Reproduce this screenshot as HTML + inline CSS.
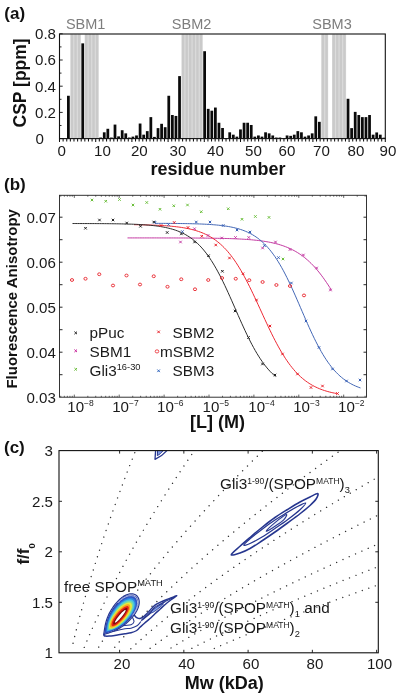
<!DOCTYPE html>
<html lang="en">
<head>
<meta charset="utf-8">
<title>Figure</title>
<style>
html,body{margin:0;padding:0;background:#fff;}
body{width:400px;height:697px;overflow:hidden;}
svg{display:block;will-change:transform;}
text{font-family:"Liberation Sans", Arial, Helvetica, sans-serif;fill:#1a1a1a;}
.tk{font-size:15.1px;}
.sbm{font-size:14.5px;fill:#7d7d7d;}
.pl{font-size:17px;font-weight:bold;fill:#111;}
.axb{font-size:17.5px;font-weight:bold;fill:#111;}
.axb2{font-size:15px;font-weight:bold;fill:#111;}
.axl{font-size:18px;font-weight:bold;fill:#111;}
.lg{font-size:15.3px;}
</style>
</head>
<body>
<svg width="400" height="697" viewBox="0 0 400 697">
<rect x="0" y="0" width="400" height="697" fill="#ffffff"/>
<g id="panelA">
<rect x="70.31" y="34.5" width="10.52" height="104.1" fill="#dcdcdc"/>
<rect x="84.64" y="34.5" width="14.1" height="104.1" fill="#dcdcdc"/>
<rect x="181.44" y="34.5" width="21.28" height="104.1" fill="#dcdcdc"/>
<rect x="321.25" y="34.5" width="6.93" height="104.1" fill="#dcdcdc"/>
<rect x="332.01" y="34.5" width="14.1" height="104.1" fill="#dcdcdc"/>
<rect x="70.76" y="34.5" width="2.45" height="104.1" fill="#cacaca"/>
<rect x="74.34" y="34.5" width="2.45" height="104.1" fill="#cacaca"/>
<rect x="77.93" y="34.5" width="2.45" height="104.1" fill="#cacaca"/>
<rect x="85.09" y="34.5" width="2.45" height="104.1" fill="#cacaca"/>
<rect x="88.68" y="34.5" width="2.45" height="104.1" fill="#cacaca"/>
<rect x="92.27" y="34.5" width="2.45" height="104.1" fill="#cacaca"/>
<rect x="95.85" y="34.5" width="2.45" height="104.1" fill="#cacaca"/>
<rect x="181.89" y="34.5" width="2.45" height="104.1" fill="#cacaca"/>
<rect x="185.47" y="34.5" width="2.45" height="104.1" fill="#cacaca"/>
<rect x="189.06" y="34.5" width="2.45" height="104.1" fill="#cacaca"/>
<rect x="192.65" y="34.5" width="2.45" height="104.1" fill="#cacaca"/>
<rect x="196.23" y="34.5" width="2.45" height="104.1" fill="#cacaca"/>
<rect x="199.81" y="34.5" width="2.45" height="104.1" fill="#cacaca"/>
<rect x="321.7" y="34.5" width="2.45" height="104.1" fill="#cacaca"/>
<rect x="325.29" y="34.5" width="2.45" height="104.1" fill="#cacaca"/>
<rect x="332.46" y="34.5" width="2.45" height="104.1" fill="#cacaca"/>
<rect x="336.05" y="34.5" width="2.45" height="104.1" fill="#cacaca"/>
<rect x="339.63" y="34.5" width="2.45" height="104.1" fill="#cacaca"/>
<rect x="343.21" y="34.5" width="2.45" height="104.1" fill="#cacaca"/>
<rect x="67.02" y="95.76" width="2.75" height="42.84" fill="#0a0a0a"/>
<rect x="81.36" y="43.36" width="2.75" height="95.24" fill="#0a0a0a"/>
<rect x="99.28" y="137.55" width="2.75" height="1.05" fill="#0a0a0a"/>
<rect x="102.87" y="132.31" width="2.75" height="6.29" fill="#0a0a0a"/>
<rect x="106.45" y="128.78" width="2.75" height="9.82" fill="#0a0a0a"/>
<rect x="110.04" y="137.55" width="2.75" height="1.05" fill="#0a0a0a"/>
<rect x="113.62" y="124.58" width="2.75" height="14.02" fill="#0a0a0a"/>
<rect x="117.21" y="136.37" width="2.75" height="2.23" fill="#0a0a0a"/>
<rect x="120.8" y="130.22" width="2.75" height="8.38" fill="#0a0a0a"/>
<rect x="124.38" y="133.36" width="2.75" height="5.24" fill="#0a0a0a"/>
<rect x="127.97" y="137.55" width="2.75" height="1.05" fill="#0a0a0a"/>
<rect x="131.55" y="136.63" width="2.75" height="1.96" fill="#0a0a0a"/>
<rect x="135.13" y="135.46" width="2.75" height="3.14" fill="#0a0a0a"/>
<rect x="138.72" y="123.53" width="2.75" height="15.07" fill="#0a0a0a"/>
<rect x="142.31" y="134.67" width="2.75" height="3.93" fill="#0a0a0a"/>
<rect x="145.89" y="131.13" width="2.75" height="7.47" fill="#0a0a0a"/>
<rect x="149.47" y="117.12" width="2.75" height="21.48" fill="#0a0a0a"/>
<rect x="153.06" y="136.9" width="2.75" height="1.7" fill="#0a0a0a"/>
<rect x="156.65" y="128.12" width="2.75" height="10.48" fill="#0a0a0a"/>
<rect x="160.23" y="123.8" width="2.75" height="14.8" fill="#0a0a0a"/>
<rect x="163.81" y="127.2" width="2.75" height="11.4" fill="#0a0a0a"/>
<rect x="167.4" y="95.76" width="2.75" height="42.84" fill="#0a0a0a"/>
<rect x="170.99" y="115.02" width="2.75" height="23.58" fill="#0a0a0a"/>
<rect x="174.57" y="115.94" width="2.75" height="22.66" fill="#0a0a0a"/>
<rect x="178.16" y="76.11" width="2.75" height="62.49" fill="#0a0a0a"/>
<rect x="203.25" y="51.22" width="2.75" height="87.38" fill="#0a0a0a"/>
<rect x="206.83" y="108.86" width="2.75" height="29.74" fill="#0a0a0a"/>
<rect x="210.42" y="110.7" width="2.75" height="27.9" fill="#0a0a0a"/>
<rect x="214" y="107.55" width="2.75" height="31.05" fill="#0a0a0a"/>
<rect x="217.59" y="122.75" width="2.75" height="15.85" fill="#0a0a0a"/>
<rect x="221.17" y="127.99" width="2.75" height="10.61" fill="#0a0a0a"/>
<rect x="228.34" y="132.31" width="2.75" height="6.29" fill="#0a0a0a"/>
<rect x="231.93" y="134.67" width="2.75" height="3.93" fill="#0a0a0a"/>
<rect x="235.51" y="136.63" width="2.75" height="1.96" fill="#0a0a0a"/>
<rect x="239.1" y="129.43" width="2.75" height="9.17" fill="#0a0a0a"/>
<rect x="242.69" y="122.75" width="2.75" height="15.85" fill="#0a0a0a"/>
<rect x="246.27" y="122.75" width="2.75" height="15.85" fill="#0a0a0a"/>
<rect x="249.85" y="124.98" width="2.75" height="13.62" fill="#0a0a0a"/>
<rect x="253.44" y="136.63" width="2.75" height="1.96" fill="#0a0a0a"/>
<rect x="257.03" y="135.46" width="2.75" height="3.14" fill="#0a0a0a"/>
<rect x="260.61" y="136.63" width="2.75" height="1.96" fill="#0a0a0a"/>
<rect x="264.19" y="132.31" width="2.75" height="6.29" fill="#0a0a0a"/>
<rect x="267.78" y="133.36" width="2.75" height="5.24" fill="#0a0a0a"/>
<rect x="271.37" y="135.46" width="2.75" height="3.14" fill="#0a0a0a"/>
<rect x="274.95" y="137.55" width="2.75" height="1.05" fill="#0a0a0a"/>
<rect x="278.54" y="137.55" width="2.75" height="1.05" fill="#0a0a0a"/>
<rect x="285.7" y="135.46" width="2.75" height="3.14" fill="#0a0a0a"/>
<rect x="289.29" y="135.85" width="2.75" height="2.75" fill="#0a0a0a"/>
<rect x="292.88" y="134.67" width="2.75" height="3.93" fill="#0a0a0a"/>
<rect x="296.46" y="131.13" width="2.75" height="7.47" fill="#0a0a0a"/>
<rect x="300.05" y="132.31" width="2.75" height="6.29" fill="#0a0a0a"/>
<rect x="303.63" y="136.63" width="2.75" height="1.96" fill="#0a0a0a"/>
<rect x="307.22" y="135.46" width="2.75" height="3.14" fill="#0a0a0a"/>
<rect x="310.8" y="133.36" width="2.75" height="5.24" fill="#0a0a0a"/>
<rect x="314.38" y="116.33" width="2.75" height="22.27" fill="#0a0a0a"/>
<rect x="317.97" y="121.83" width="2.75" height="16.77" fill="#0a0a0a"/>
<rect x="346.65" y="98.78" width="2.75" height="39.82" fill="#0a0a0a"/>
<rect x="350.24" y="128.12" width="2.75" height="10.48" fill="#0a0a0a"/>
<rect x="353.82" y="111.88" width="2.75" height="26.72" fill="#0a0a0a"/>
<rect x="357.41" y="115.02" width="2.75" height="23.58" fill="#0a0a0a"/>
<rect x="360.99" y="117.12" width="2.75" height="21.48" fill="#0a0a0a"/>
<rect x="364.58" y="117.12" width="2.75" height="21.48" fill="#0a0a0a"/>
<rect x="368.16" y="115.02" width="2.75" height="23.58" fill="#0a0a0a"/>
<rect x="371.75" y="134.67" width="2.75" height="3.93" fill="#0a0a0a"/>
<rect x="375.33" y="132.44" width="2.75" height="6.16" fill="#0a0a0a"/>
<rect x="378.92" y="134.67" width="2.75" height="3.93" fill="#0a0a0a"/>
<rect x="382.5" y="137.68" width="2.75" height="0.92" fill="#0a0a0a"/>
<rect x="59.5" y="34" width="325.8" height="104.6" fill="none" stroke="#111" stroke-width="1.1"/>
<path d="M59.5 138.6v3.4M63.12 138.6v3M66.74 138.6v3M70.36 138.6v3M73.98 138.6v3M77.6 138.6v3M81.22 138.6v3M84.84 138.6v3M88.46 138.6v3M92.08 138.6v3M95.7 138.6v3.4M99.32 138.6v3M102.94 138.6v3M106.56 138.6v3M110.18 138.6v3M113.8 138.6v3M117.42 138.6v3M121.04 138.6v3M124.66 138.6v3M128.28 138.6v3M131.9 138.6v3.4M135.52 138.6v3M139.14 138.6v3M142.76 138.6v3M146.38 138.6v3M150 138.6v3M153.62 138.6v3M157.24 138.6v3M160.86 138.6v3M164.48 138.6v3M168.1 138.6v3.4M171.72 138.6v3M175.34 138.6v3M178.96 138.6v3M182.58 138.6v3M186.2 138.6v3M189.82 138.6v3M193.44 138.6v3M197.06 138.6v3M200.68 138.6v3M204.3 138.6v3.4M207.92 138.6v3M211.54 138.6v3M215.16 138.6v3M218.78 138.6v3M222.4 138.6v3M226.02 138.6v3M229.64 138.6v3M233.26 138.6v3M236.88 138.6v3M240.5 138.6v3.4M244.12 138.6v3M247.74 138.6v3M251.36 138.6v3M254.98 138.6v3M258.6 138.6v3M262.22 138.6v3M265.84 138.6v3M269.46 138.6v3M273.08 138.6v3M276.7 138.6v3.4M280.32 138.6v3M283.94 138.6v3M287.56 138.6v3M291.18 138.6v3M294.8 138.6v3M298.42 138.6v3M302.04 138.6v3M305.66 138.6v3M309.28 138.6v3M312.9 138.6v3.4M316.52 138.6v3M320.14 138.6v3M323.76 138.6v3M327.38 138.6v3M331 138.6v3M334.62 138.6v3M338.24 138.6v3M341.86 138.6v3M345.48 138.6v3M349.1 138.6v3.4M352.72 138.6v3M356.34 138.6v3M359.96 138.6v3M363.58 138.6v3M367.2 138.6v3M370.82 138.6v3M374.44 138.6v3M378.06 138.6v3M381.68 138.6v3M385.3 138.6v3.4" stroke="#111" stroke-width="1.05" fill="none"/>
<path d="M59.5 138.6h3.2M59.5 125.5h2M59.5 112.4h3.2M59.5 99.3h2M59.5 86.2h3.2M59.5 73.1h2M59.5 60h3.2M59.5 46.9h2M59.5 33.8h3.2" stroke="#111" stroke-width="0.9" fill="none"/>
<text x="35.6" y="144" class="tk">0</text>
<text x="56" y="117.8" text-anchor="end" class="tk">0.2</text>
<text x="56" y="91.6" text-anchor="end" class="tk">0.4</text>
<text x="56" y="65.4" text-anchor="end" class="tk">0.6</text>
<text x="56" y="39.2" text-anchor="end" class="tk">0.8</text>
<text x="61.8" y="156.3" text-anchor="middle" class="tk">0</text>
<text x="102.5" y="156.3" text-anchor="middle" class="tk">10</text>
<text x="139.3" y="156.3" text-anchor="middle" class="tk">20</text>
<text x="178" y="156.3" text-anchor="middle" class="tk">30</text>
<text x="215.5" y="156.3" text-anchor="middle" class="tk">40</text>
<text x="253.5" y="156.3" text-anchor="middle" class="tk">50</text>
<text x="287" y="156.3" text-anchor="middle" class="tk">60</text>
<text x="321.5" y="156.3" text-anchor="middle" class="tk">70</text>
<text x="356" y="156.3" text-anchor="middle" class="tk">80</text>
<text x="388" y="156.3" text-anchor="middle" class="tk">90</text>
<text x="85.7" y="28.5" text-anchor="middle" class="sbm">SBM1</text>
<text x="191.6" y="28.5" text-anchor="middle" class="sbm">SBM2</text>
<text x="332" y="28.5" text-anchor="middle" class="sbm">SBM3</text>
<text x="4.3" y="19" class="pl">(a)</text>
<text transform="translate(26.2 82.9) rotate(-90)" text-anchor="middle" class="axb">CSP [ppm]</text>
<text x="218" y="174.6" text-anchor="middle" class="axl">residue number</text>
</g>
<g id="panelB">
<rect x="59.5" y="195.3" width="307" height="201.9" fill="none" stroke="#2a2a2a" stroke-width="0.95"/>
<path d="M60.78 397.2v-1.4M60.78 195.3v1.4M64.34 397.2v-1.4M64.34 195.3v1.4M67.34 397.2v-1.4M67.34 195.3v1.4M69.95 397.2v-1.4M69.95 195.3v1.4M72.25 397.2v-1.4M72.25 195.3v1.4M74.3 397.2v-2.6M74.3 195.3v2.6M87.82 397.2v-1.4M87.82 195.3v1.4M95.72 397.2v-1.4M95.72 195.3v1.4M101.33 397.2v-1.4M101.33 195.3v1.4M105.68 397.2v-1.4M105.68 195.3v1.4M109.24 397.2v-1.4M109.24 195.3v1.4M112.24 397.2v-1.4M112.24 195.3v1.4M114.85 397.2v-1.4M114.85 195.3v1.4M117.15 397.2v-1.4M117.15 195.3v1.4M119.2 397.2v-2.6M119.2 195.3v2.6M132.72 397.2v-1.4M132.72 195.3v1.4M140.62 397.2v-1.4M140.62 195.3v1.4M146.23 397.2v-1.4M146.23 195.3v1.4M150.58 397.2v-1.4M150.58 195.3v1.4M154.14 397.2v-1.4M154.14 195.3v1.4M157.14 397.2v-1.4M157.14 195.3v1.4M159.75 397.2v-1.4M159.75 195.3v1.4M162.05 397.2v-1.4M162.05 195.3v1.4M164.1 397.2v-2.6M164.1 195.3v2.6M177.62 397.2v-1.4M177.62 195.3v1.4M185.52 397.2v-1.4M185.52 195.3v1.4M191.13 397.2v-1.4M191.13 195.3v1.4M195.48 397.2v-1.4M195.48 195.3v1.4M199.04 397.2v-1.4M199.04 195.3v1.4M202.04 397.2v-1.4M202.04 195.3v1.4M204.65 397.2v-1.4M204.65 195.3v1.4M206.95 397.2v-1.4M206.95 195.3v1.4M209 397.2v-2.6M209 195.3v2.6M222.52 397.2v-1.4M222.52 195.3v1.4M230.42 397.2v-1.4M230.42 195.3v1.4M236.03 397.2v-1.4M236.03 195.3v1.4M240.38 397.2v-1.4M240.38 195.3v1.4M243.94 397.2v-1.4M243.94 195.3v1.4M246.94 397.2v-1.4M246.94 195.3v1.4M249.55 397.2v-1.4M249.55 195.3v1.4M251.85 397.2v-1.4M251.85 195.3v1.4M253.9 397.2v-2.6M253.9 195.3v2.6M267.42 397.2v-1.4M267.42 195.3v1.4M275.32 397.2v-1.4M275.32 195.3v1.4M280.93 397.2v-1.4M280.93 195.3v1.4M285.28 397.2v-1.4M285.28 195.3v1.4M288.84 397.2v-1.4M288.84 195.3v1.4M291.84 397.2v-1.4M291.84 195.3v1.4M294.45 397.2v-1.4M294.45 195.3v1.4M296.75 397.2v-1.4M296.75 195.3v1.4M298.8 397.2v-2.6M298.8 195.3v2.6M312.32 397.2v-1.4M312.32 195.3v1.4M320.22 397.2v-1.4M320.22 195.3v1.4M325.83 397.2v-1.4M325.83 195.3v1.4M330.18 397.2v-1.4M330.18 195.3v1.4M333.74 397.2v-1.4M333.74 195.3v1.4M336.74 397.2v-1.4M336.74 195.3v1.4M339.35 397.2v-1.4M339.35 195.3v1.4M341.65 397.2v-1.4M341.65 195.3v1.4M343.7 397.2v-2.6M343.7 195.3v2.6M357.22 397.2v-1.4M357.22 195.3v1.4M365.12 397.2v-1.4M365.12 195.3v1.4" stroke="#222" stroke-width="0.7" fill="none"/>
<path d="M59.5 374.7h3M366.5 374.7h-3M59.5 352.2h3M366.5 352.2h-3M59.5 329.7h3M366.5 329.7h-3M59.5 307.2h3M366.5 307.2h-3M59.5 284.7h3M366.5 284.7h-3M59.5 262.2h3M366.5 262.2h-3M59.5 239.7h3M366.5 239.7h-3M59.5 217.2h3M366.5 217.2h-3" stroke="#111" stroke-width="0.9" fill="none"/>
<text x="55.8" y="403.2" text-anchor="end" class="tk">0.03</text>
<text x="55.8" y="358.2" text-anchor="end" class="tk">0.04</text>
<text x="55.8" y="313.2" text-anchor="end" class="tk">0.05</text>
<text x="55.8" y="268.2" text-anchor="end" class="tk">0.06</text>
<text x="55.8" y="223.2" text-anchor="end" class="tk">0.07</text>
<text x="67.3" y="412" class="tk">10<tspan dy="-6" font-size="8.5">−8</tspan></text>
<text x="112.2" y="412" class="tk">10<tspan dy="-6" font-size="8.5">−7</tspan></text>
<text x="157.1" y="412" class="tk">10<tspan dy="-6" font-size="8.5">−6</tspan></text>
<text x="202.6" y="412" class="tk">10<tspan dy="-6" font-size="8.5">−5</tspan></text>
<text x="248.3" y="412" class="tk">10<tspan dy="-6" font-size="8.5">−4</tspan></text>
<text x="293.2" y="412" class="tk">10<tspan dy="-6" font-size="8.5">−3</tspan></text>
<text x="338.1" y="412" class="tk">10<tspan dy="-6" font-size="8.5">−2</tspan></text>
<polyline points="127.5 237.91 129.2 237.91 130.9 237.91 132.6 237.91 134.3 237.91 136 237.91 137.7 237.91 139.4 237.91 141.1 237.91 142.8 237.91 144.5 237.91 146.2 237.91 147.9 237.92 149.6 237.92 151.3 237.92 153 237.92 154.7 237.92 156.4 237.92 158.1 237.93 159.8 237.93 161.5 237.93 163.2 237.93 164.9 237.94 166.6 237.94 168.3 237.94 170 237.94 171.7 237.95 173.4 237.95 175.1 237.96 176.8 237.96 178.5 237.97 180.2 237.97 181.9 237.98 183.6 237.98 185.3 237.99 187 238 188.7 238.01 190.4 238.01 192.1 238.02 193.8 238.03 195.5 238.04 197.2 238.06 198.9 238.07 200.6 238.08 202.3 238.1 204 238.11 205.7 238.13 207.4 238.15 209.1 238.17 210.8 238.19 212.5 238.22 214.2 238.24 215.9 238.27 217.6 238.3 219.3 238.33 221 238.37 222.7 238.41 224.4 238.45 226.1 238.49 227.8 238.54 229.5 238.59 231.2 238.65 232.9 238.71 234.6 238.78 236.3 238.85 238 238.93 239.7 239.01 241.4 239.1 243.1 239.2 244.8 239.3 246.5 239.41 248.2 239.54 249.9 239.67 251.6 239.81 253.3 239.97 255 240.13 256.7 240.31 258.4 240.51 260.1 240.72 261.8 240.94 263.5 241.19 265.2 241.45 266.9 241.74 268.6 242.04 270.3 242.37 272 242.72 273.7 243.11 275.4 243.52 277.1 243.96 278.8 244.43 280.5 244.95 282.2 245.49 283.9 246.08 285.6 246.72 287.3 247.39 289 248.12 290.7 248.9 292.4 249.73 294.1 250.62 295.8 251.58 297.5 252.59 299.2 253.67 300.9 254.83 302.6 256.05 304.3 257.36 306 258.74 307.7 260.21 309.4 261.76 311.1 263.4 312.8 265.13 314.5 266.95 316.2 268.87 317.9 270.87 319.6 272.98 321.3 275.18 323 277.47 324.7 279.85 326.4 282.33 328.1 284.89 329.8 287.54 331.5 290.26" fill="none" stroke="#c43aa2" stroke-width="1.0" stroke-linejoin="round"/>
<polyline points="155 223.34 156.71 223.34 158.43 223.35 160.14 223.36 161.85 223.36 163.56 223.37 165.28 223.38 166.99 223.39 168.7 223.4 170.41 223.42 172.12 223.43 173.84 223.45 175.55 223.46 177.26 223.48 178.97 223.5 180.69 223.52 182.4 223.55 184.11 223.57 185.82 223.6 187.54 223.64 189.25 223.67 190.96 223.71 192.68 223.75 194.39 223.8 196.1 223.85 197.81 223.9 199.53 223.96 201.24 224.03 202.95 224.1 204.66 224.18 206.38 224.27 208.09 224.37 209.8 224.48 211.51 224.59 213.22 224.72 214.94 224.86 216.65 225.01 218.36 225.18 220.07 225.36 221.79 225.56 223.5 225.78 225.21 226.02 226.93 226.28 228.64 226.57 230.35 226.89 232.06 227.23 233.78 227.6 235.49 228.01 237.2 228.46 238.91 228.95 240.62 229.48 242.34 230.06 244.05 230.7 245.76 231.39 247.47 232.13 249.19 232.95 250.9 233.83 252.61 234.79 254.32 235.83 256.04 236.96 257.75 238.17 259.46 239.49 261.18 240.9 262.89 242.43 264.6 244.07 266.31 245.83 268.02 247.71 269.74 249.72 271.45 251.87 273.16 254.15 274.88 256.57 276.59 259.14 278.3 261.84 280.01 264.69 281.73 267.68 283.44 270.8 285.15 274.06 286.86 277.44 288.57 280.94 290.29 284.55 292 288.25 293.71 292.04 295.43 295.89 297.14 299.81 298.85 303.76 300.56 307.73 302.27 311.71 303.99 315.67 305.7 319.61 307.41 323.5 309.12 327.33 310.84 331.08 312.55 334.75 314.26 338.31 315.98 341.76 317.69 345.09 319.4 348.29 321.11 351.36 322.82 354.29 324.54 357.08 326.25 359.73 327.96 362.23 329.68 364.6 331.39 366.82 333.1 368.91 334.81 370.87 336.52 372.7 338.24 374.41 339.95 376 341.66 377.48 343.38 378.85 345.09 380.12 346.8 381.3 348.51 382.39 350.23 383.39 351.94 384.32 353.65 385.18 355.36 385.96 357.07 386.68 358.79 387.35 360.5 387.96" fill="none" stroke="#4468b6" stroke-width="1.0" stroke-linejoin="round"/>
<polyline points="134 224.68 135.7 224.7 137.4 224.73 139.1 224.76 140.8 224.79 142.5 224.83 144.2 224.87 145.9 224.91 147.6 224.96 149.3 225.01 151 225.06 152.7 225.12 154.4 225.18 156.1 225.25 157.8 225.33 159.5 225.41 161.2 225.5 162.9 225.6 164.6 225.71 166.3 225.82 168 225.95 169.7 226.09 171.4 226.24 173.1 226.4 174.8 226.58 176.5 226.77 178.2 226.98 179.9 227.21 181.6 227.46 183.3 227.73 185 228.02 186.7 228.34 188.4 228.69 190.1 229.06 191.8 229.47 193.5 229.91 195.2 230.39 196.9 230.91 198.6 231.47 200.3 232.07 202 232.73 203.7 233.44 205.4 234.21 207.1 235.03 208.8 235.92 210.5 236.89 212.2 237.92 213.9 239.03 215.6 240.23 217.3 241.51 219 242.88 220.7 244.35 222.4 245.92 224.1 247.6 225.8 249.38 227.5 251.27 229.2 253.29 230.9 255.42 232.6 257.67 234.3 260.04 236 262.54 237.7 265.16 239.4 267.9 241.1 270.76 242.8 273.73 244.5 276.82 246.2 280.02 247.9 283.31 249.6 286.7 251.3 290.17 253 293.71 254.7 297.31 256.4 300.96 258.1 304.64 259.8 308.35 261.5 312.07 263.2 315.78 264.9 319.48 266.6 323.14 268.3 326.76 270 330.32 271.7 333.81 273.4 337.22 275.1 340.55 276.8 343.77 278.5 346.9 280.2 349.91 281.9 352.81 283.6 355.59 285.3 358.24 287 360.78 288.7 363.19 290.4 365.48 292.1 367.65 293.8 369.7 295.5 371.63 297.2 373.45 298.9 375.16 300.6 376.76 302.3 378.26 304 379.67 305.7 380.98 307.4 382.2 309.1 383.34 310.8 384.39 312.5 385.38 314.2 386.29 315.9 387.14 317.6 387.92 319.3 388.65 321 389.32 322.7 389.95 324.4 390.52 326.1 391.05 327.8 391.54 329.5 392 331.2 392.41 332.9 392.8 334.6 393.15 336.3 393.48 338 393.78" fill="none" stroke="#ee2a35" stroke-width="1.0" stroke-linejoin="round"/>
<polyline points="72.5 223.53 74.19 223.53 75.88 223.53 77.58 223.54 79.27 223.54 80.96 223.54 82.65 223.55 84.34 223.55 86.03 223.56 87.72 223.56 89.42 223.57 91.11 223.58 92.8 223.58 94.49 223.59 96.18 223.6 97.88 223.61 99.57 223.62 101.26 223.63 102.95 223.64 104.64 223.66 106.33 223.67 108.03 223.69 109.72 223.71 111.41 223.73 113.1 223.75 114.79 223.77 116.48 223.8 118.17 223.82 119.87 223.86 121.56 223.89 123.25 223.93 124.94 223.97 126.63 224.01 128.32 224.06 130.02 224.11 131.71 224.17 133.4 224.23 135.09 224.3 136.78 224.37 138.47 224.46 140.17 224.55 141.86 224.65 143.55 224.75 145.24 224.87 146.93 225 148.62 225.14 150.32 225.29 152.01 225.46 153.7 225.64 155.39 225.84 157.08 226.06 158.78 226.3 160.47 226.56 162.16 226.85 163.85 227.16 165.54 227.49 167.23 227.86 168.93 228.26 170.62 228.7 172.31 229.18 174 229.69 175.69 230.26 177.38 230.87 179.07 231.53 180.77 232.26 182.46 233.04 184.15 233.89 185.84 234.8 187.53 235.8 189.22 236.87 190.92 238.03 192.61 239.27 194.3 240.62 195.99 242.06 197.68 243.61 199.38 245.27 201.07 247.05 202.76 248.95 204.45 250.97 206.14 253.12 207.83 255.4 209.53 257.81 211.22 260.36 212.91 263.04 214.6 265.86 216.29 268.8 217.98 271.88 219.68 275.07 221.37 278.39 223.06 281.81 224.75 285.33 226.44 288.95 228.13 292.64 229.82 296.39 231.52 300.19 233.21 304.03 234.9 307.89 236.59 311.76 238.28 315.61 239.97 319.44 241.67 323.22 243.36 326.95 245.05 330.61 246.74 334.18 248.43 337.67 250.12 341.04 251.82 344.31 253.51 347.45 255.2 350.47 256.89 353.37 258.58 356.12 260.27 358.75 261.97 361.24 263.66 363.59 265.35 365.82 267.04 367.91 268.73 369.88 270.43 371.72 272.12 373.45 273.81 375.06 275.5 376.57" fill="none" stroke="#2e2e2e" stroke-width="1.0" stroke-linejoin="round"/>
<path d="M90.75 198.75l2.5 2.5M90.75 201.25l2.5 -2.5M104.5 200l2.5 2.5M104.5 202.5l2.5 -2.5M118.25 198.25l2.5 2.5M118.25 200.75l2.5 -2.5M131.75 203.75l2.5 2.5M131.75 206.25l2.5 -2.5M145.5 201.25l2.5 2.5M145.5 203.75l2.5 -2.5M158.75 208l2.5 2.5M158.75 210.5l2.5 -2.5M172.5 204.5l2.5 2.5M172.5 207l2.5 -2.5M186.25 203.75l2.5 2.5M186.25 206.25l2.5 -2.5M200 210.5l2.5 2.5M200 213l2.5 -2.5M227 207.5l2.5 2.5M227 210l2.5 -2.5M240.75 218l2.5 2.5M240.75 220.5l2.5 -2.5M254.15 215.25l2.5 2.5M254.15 217.75l2.5 -2.5M267.75 216.15l2.5 2.5M267.75 218.65l2.5 -2.5M281.75 257.75l2.5 2.5M281.75 260.25l2.5 -2.5" stroke="#6cbf3c" stroke-width="1.0" fill="none"/>
<path d="M179.25 240.75l2.5 2.5M179.25 243.25l2.5 -2.5M193.25 227.5l2.5 2.5M193.25 230l2.5 -2.5M206.75 234.25l2.5 2.5M206.75 236.75l2.5 -2.5M220.5 236.75l2.5 2.5M220.5 239.25l2.5 -2.5M234.25 236.25l2.5 2.5M234.25 238.75l2.5 -2.5M247.5 236.25l2.5 2.5M247.5 238.75l2.5 -2.5M261.35 246.75l2.5 2.5M261.35 249.25l2.5 -2.5M274.25 240.75l2.5 2.5M274.25 243.25l2.5 -2.5M288.75 248.25l2.5 2.5M288.75 250.75l2.5 -2.5M302.15 253.75l2.5 2.5M302.15 256.25l2.5 -2.5M315.35 266.75l2.5 2.5M315.35 269.25l2.5 -2.5M329.15 288.75l2.5 2.5M329.15 291.25l2.5 -2.5" stroke="#c43aa2" stroke-width="1.0" fill="none"/>
<path d="M153.75 221.05l2.5 2.5M153.75 223.55l2.5 -2.5M167.25 223.25l2.5 2.5M167.25 225.75l2.5 -2.5M181.15 230.35l2.5 2.5M181.15 232.85l2.5 -2.5M195 220.75l2.5 2.5M195 223.25l2.5 -2.5M208.75 220.75l2.5 2.5M208.75 223.25l2.5 -2.5M222 224.25l2.5 2.5M222 226.75l2.5 -2.5M235.75 228.75l2.5 2.5M235.75 231.25l2.5 -2.5M248.75 230.75l2.5 2.5M248.75 233.25l2.5 -2.5M263.15 244.35l2.5 2.5M263.15 246.85l2.5 -2.5M277.25 256.35l2.5 2.5M277.25 258.85l2.5 -2.5M290.15 281.75l2.5 2.5M290.15 284.25l2.5 -2.5M304.75 319.75l2.5 2.5M304.75 322.25l2.5 -2.5M317.75 346.25l2.5 2.5M317.75 348.75l2.5 -2.5M331.25 367.75l2.5 2.5M331.25 370.25l2.5 -2.5M345.25 379.75l2.5 2.5M345.25 382.25l2.5 -2.5M358.75 378.75l2.5 2.5M358.75 381.25l2.5 -2.5" stroke="#3a62b8" stroke-width="1.0" fill="none"/>
<path d="M159.75 224.25l2.5 2.5M159.75 226.75l2.5 -2.5M173 221.25l2.5 2.5M173 223.75l2.5 -2.5M186.75 226.25l2.5 2.5M186.75 228.75l2.5 -2.5M200.5 235l2.5 2.5M200.5 237.5l2.5 -2.5M214.5 243.75l2.5 2.5M214.5 246.25l2.5 -2.5M228.25 256.75l2.5 2.5M228.25 259.25l2.5 -2.5M241.75 272.5l2.5 2.5M241.75 275l2.5 -2.5M255.25 298.75l2.5 2.5M255.25 301.25l2.5 -2.5M268.75 324.75l2.5 2.5M268.75 327.25l2.5 -2.5M281.25 352.75l2.5 2.5M281.25 355.25l2.5 -2.5M296.25 372.75l2.5 2.5M296.25 375.25l2.5 -2.5M309.75 386.25l2.5 2.5M309.75 388.75l2.5 -2.5M321.25 384.75l2.5 2.5M321.25 387.25l2.5 -2.5M336.25 392.25l2.5 2.5M336.25 394.75l2.5 -2.5" stroke="#e8222a" stroke-width="1.0" fill="none"/>
<path d="M84.25 227l2.5 2.5M84.25 229.5l2.5 -2.5M98.25 218.75l2.5 2.5M98.25 221.25l2.5 -2.5M111.75 218.75l2.5 2.5M111.75 221.25l2.5 -2.5M125.5 221.75l2.5 2.5M125.5 224.25l2.5 -2.5M139.25 225l2.5 2.5M139.25 227.5l2.5 -2.5M152.5 220.75l2.5 2.5M152.5 223.25l2.5 -2.5M165.95 231.25l2.5 2.5M165.95 233.75l2.5 -2.5M180.15 232.65l2.5 2.5M180.15 235.15l2.5 -2.5M193.35 240.75l2.5 2.5M193.35 243.25l2.5 -2.5M207.25 254.45l2.5 2.5M207.25 256.95l2.5 -2.5M221.15 270l2.5 2.5M221.15 272.5l2.5 -2.5M233.75 309.75l2.5 2.5M233.75 312.25l2.5 -2.5M247.25 336.25l2.5 2.5M247.25 338.75l2.5 -2.5M261.25 362.75l2.5 2.5M261.25 365.25l2.5 -2.5M273.75 373.75l2.5 2.5M273.75 376.25l2.5 -2.5" stroke="#222" stroke-width="1.0" fill="none"/>
<ellipse cx="72" cy="280" rx="1.6" ry="1.4" fill="none" stroke="#e8222a" stroke-width="0.9"/>
<ellipse cx="85.5" cy="278.75" rx="1.6" ry="1.4" fill="none" stroke="#e8222a" stroke-width="0.9"/>
<ellipse cx="99.25" cy="274.25" rx="1.6" ry="1.4" fill="none" stroke="#e8222a" stroke-width="0.9"/>
<ellipse cx="113" cy="285.5" rx="1.6" ry="1.4" fill="none" stroke="#e8222a" stroke-width="0.9"/>
<ellipse cx="126.5" cy="275.5" rx="1.6" ry="1.4" fill="none" stroke="#e8222a" stroke-width="0.9"/>
<ellipse cx="140" cy="284.5" rx="1.6" ry="1.4" fill="none" stroke="#e8222a" stroke-width="0.9"/>
<ellipse cx="153.75" cy="276.25" rx="1.6" ry="1.4" fill="none" stroke="#e8222a" stroke-width="0.9"/>
<ellipse cx="167.5" cy="286.75" rx="1.6" ry="1.4" fill="none" stroke="#e8222a" stroke-width="0.9"/>
<ellipse cx="181.25" cy="279.25" rx="1.6" ry="1.4" fill="none" stroke="#e8222a" stroke-width="0.9"/>
<ellipse cx="195" cy="289.25" rx="1.6" ry="1.4" fill="none" stroke="#e8222a" stroke-width="0.9"/>
<ellipse cx="208.25" cy="280" rx="1.6" ry="1.4" fill="none" stroke="#e8222a" stroke-width="0.9"/>
<ellipse cx="222" cy="278" rx="1.6" ry="1.4" fill="none" stroke="#e8222a" stroke-width="0.9"/>
<ellipse cx="235.75" cy="278.75" rx="1.6" ry="1.4" fill="none" stroke="#e8222a" stroke-width="0.9"/>
<ellipse cx="249.25" cy="280.2" rx="1.6" ry="1.4" fill="none" stroke="#e8222a" stroke-width="0.9"/>
<ellipse cx="262.6" cy="282" rx="1.6" ry="1.4" fill="none" stroke="#e8222a" stroke-width="0.9"/>
<ellipse cx="276.4" cy="285" rx="1.6" ry="1.4" fill="none" stroke="#e8222a" stroke-width="0.9"/>
<ellipse cx="290" cy="286" rx="1.6" ry="1.4" fill="none" stroke="#e8222a" stroke-width="0.9"/>
<ellipse cx="304" cy="295.4" rx="1.6" ry="1.4" fill="none" stroke="#e8222a" stroke-width="0.9"/>
<path d="M74.4 331.6l2.6 2.6M74.4 334.2l2.6 -2.6" stroke="#222" stroke-width="1.0" fill="none"/>
<path d="M74.4 349.5l2.6 2.6M74.4 352.1l2.6 -2.6" stroke="#c8229a" stroke-width="1.0" fill="none"/>
<path d="M74.4 368l2.6 2.6M74.4 370.6l2.6 -2.6" stroke="#6cbf3c" stroke-width="1.0" fill="none"/>
<path d="M157.3 330.6l2.6 2.6M157.3 333.2l2.6 -2.6" stroke="#e8222a" stroke-width="1.0" fill="none"/>
<ellipse cx="157" cy="351.4" rx="1.8" ry="1.6" fill="none" stroke="#e8222a" stroke-width="0.8"/>
<path d="M157.3 369.5l2.6 2.6M157.3 372.1l2.6 -2.6" stroke="#2f64bd" stroke-width="1.0" fill="none"/>
<text x="89.5" y="338.3" class="lg">pPuc</text>
<text x="89.5" y="356.9" class="lg">SBM1</text>
<text x="89.5" y="375.6" class="lg">Gli3<tspan dy="-5.6" font-size="9.3">16-30</tspan></text>
<text x="172.5" y="338.3" class="lg">SBM2</text>
<text x="160" y="356.9" class="lg">mSBM2</text>
<text x="172.5" y="375.6" class="lg">SBM3</text>
<text x="4" y="189.5" class="pl">(b)</text>
<text transform="translate(17.2 298.8) rotate(-90)" text-anchor="middle" class="axb2">Fluorescence Anisotropy</text>
<text x="217.5" y="427.6" text-anchor="middle" class="axl">[L] (M)</text>
</g>
<g id="panelC">
<clipPath id="clipC"><rect x="59" y="450.6" width="319.3" height="202.2"/></clipPath>
<g clip-path="url(#clipC)" fill="none" stroke="#333" stroke-width="1.4" stroke-linecap="round" stroke-dasharray="0.01 6.9">
<polyline points="73.02 643.22 74.62 636.62 76.23 630.2 77.84 623.94 79.44 617.82 81.05 611.85 82.66 605.99 84.26 600.25 85.87 594.61 87.47 589.08 89.08 583.63 90.69 578.27 92.29 572.99 93.9 567.79 95.51 562.66 97.11 557.59 98.72 552.59 100.32 547.66 101.93 542.78 103.54 537.95 105.14 533.18 106.75 528.46 108.36 523.79 109.96 519.17 111.57 514.59 113.17 510.06 114.78 505.56 116.39 501.11 117.99 496.7 119.6 492.32 121.21 487.98 122.81 483.67 124.42 479.4 126.02 475.17 127.63 470.96 129.24 466.78 130.84 462.64 132.45 458.52 134.06 454.44 135.66 450.38 137.27 446.35"/>
<polyline points="84.26 647.37 85.87 643.46 87.47 639.63 89.08 635.85 90.69 632.14 92.29 628.48 93.9 624.87 95.51 621.31 97.11 617.8 98.72 614.34 100.32 610.91 101.93 607.53 103.54 604.19 105.14 600.88 106.75 597.61 108.36 594.37 109.96 591.17 111.57 588 113.17 584.85 114.78 581.74 116.39 578.65 117.99 575.59 119.6 572.56 121.21 569.55 122.81 566.57 124.42 563.61 126.02 560.67 127.63 557.75 129.24 554.86 130.84 551.99 132.45 549.14 134.06 546.3 135.66 543.49 137.27 540.69 138.88 537.92 140.48 535.16 142.09 532.42 143.69 529.69 145.3 526.98 146.91 524.29 148.51 521.61 150.12 518.95 151.72 516.31 153.33 513.68 154.94 511.06 156.54 508.46 158.15 505.87 159.76 503.29 161.36 500.73 162.97 498.18 164.57 495.64 166.18 493.12 167.79 490.6 169.39 488.1 171 485.61 172.61 483.14 174.21 480.67 175.82 478.21 177.42 475.77 179.03 473.34 180.64 470.91 182.24 468.5 183.85 466.1 185.46 463.71 187.06 461.32 188.67 458.95 190.27 456.59 191.88 454.23 193.49 451.89 195.09 449.55 196.7 447.22"/>
<polyline points="98.72 647.08 100.32 644.47 101.93 641.88 103.54 639.32 105.14 636.79 106.75 634.29 108.36 631.81 109.96 629.36 111.57 626.93 113.17 624.52 114.78 622.14 116.39 619.78 117.99 617.44 119.6 615.12 121.21 612.81 122.81 610.53 124.42 608.27 126.02 606.02 127.63 603.79 129.24 601.57 130.84 599.38 132.45 597.19 134.06 595.03 135.66 592.87 137.27 590.73 138.88 588.61 140.48 586.5 142.09 584.4 143.69 582.32 145.3 580.24 146.91 578.18 148.51 576.13 150.12 574.1 151.72 572.07 153.33 570.06 154.94 568.06 156.54 566.07 158.15 564.08 159.76 562.11 161.36 560.15 162.97 558.2 164.57 556.26 166.18 554.33 167.79 552.4 169.39 550.49 171 548.59 172.61 546.69 174.21 544.8 175.82 542.93 177.42 541.05 179.03 539.19 180.64 537.34 182.24 535.49 183.85 533.65 185.46 531.82 187.06 530 188.67 528.18 190.27 526.38 191.88 524.57 193.49 522.78 195.09 520.99 196.7 519.21 198.31 517.44 199.91 515.67 201.52 513.91 203.12 512.16 204.73 510.41 206.34 508.67 207.94 506.93 209.55 505.2 211.16 503.48 212.76 501.76 214.37 500.05 215.97 498.34 217.58 496.64 219.19 494.95 220.79 493.26 222.4 491.58 224.01 489.9 225.61 488.22 227.22 486.56 228.82 484.89 230.43 483.24 232.04 481.58 233.64 479.94 235.25 478.3 236.86 476.66 238.46 475.02 240.07 473.4 241.68 471.77 243.28 470.16 244.89 468.54 246.49 466.93 248.1 465.33 249.71 463.73 251.31 462.13 252.92 460.54 254.52 458.95 256.13 457.37 257.74 455.79 259.34 454.22 260.95 452.64 262.56 451.08 264.16 449.52 265.77 447.96 267.38 446.4"/>
<polyline points="114.78 647.18 116.39 645.26 117.99 643.37 119.6 641.49 121.21 639.62 122.81 637.78 124.42 635.94 126.02 634.12 127.63 632.31 129.24 630.52 130.84 628.74 132.45 626.97 134.06 625.22 135.66 623.47 137.27 621.74 138.88 620.02 140.48 618.31 142.09 616.61 143.69 614.92 145.3 613.25 146.91 611.58 148.51 609.92 150.12 608.27 151.72 606.63 153.33 605 154.94 603.38 156.54 601.76 158.15 600.16 159.76 598.56 161.36 596.98 162.97 595.4 164.57 593.82 166.18 592.26 167.79 590.7 169.39 589.15 171 587.61 172.61 586.07 174.21 584.55 175.82 583.03 177.42 581.51 179.03 580 180.64 578.5 182.24 577.01 183.85 575.52 185.46 574.03 187.06 572.56 188.67 571.09 190.27 569.62 191.88 568.16 193.49 566.71 195.09 565.26 196.7 563.82 198.31 562.38 199.91 560.95 201.52 559.53 203.12 558.11 204.73 556.69 206.34 555.28 207.94 553.88 209.55 552.48 211.16 551.08 212.76 549.69 214.37 548.3 215.97 546.92 217.58 545.54 219.19 544.17 220.79 542.8 222.4 541.44 224.01 540.08 225.61 538.73 227.22 537.38 228.82 536.03 230.43 534.69 232.04 533.35 233.64 532.02 235.25 530.69 236.86 529.36 238.46 528.04 240.07 526.72 241.68 525.4 243.28 524.09 244.89 522.79 246.49 521.48 248.1 520.18 249.71 518.89 251.31 517.59 252.92 516.31 254.52 515.02 256.13 513.74 257.74 512.46 259.34 511.18 260.95 509.91 262.56 508.64 264.16 507.38 265.77 506.12 267.38 504.86 268.98 503.6 270.59 502.35 272.19 501.1 273.8 499.85 275.41 498.61 277.01 497.37 278.62 496.13 280.23 494.9 281.83 493.67 283.44 492.44 285.04 491.21 286.65 489.99 288.26 488.77 289.86 487.55 291.47 486.34 293.07 485.13 294.68 483.92 296.29 482.71 297.89 481.51 299.5 480.31 301.11 479.11 302.71 477.91 304.32 476.72 305.92 475.53 307.53 474.34 309.14 473.16 310.74 471.97 312.35 470.79 313.96 469.62 315.56 468.44 317.17 467.27 318.77 466.1 320.38 464.93 321.99 463.76 323.59 462.6 325.2 461.44 326.81 460.28 328.41 459.12 330.02 457.97 331.62 456.81 333.23 455.66 334.84 454.52 336.44 453.37 338.05 452.23 339.66 451.09 341.26 449.95 342.87 448.81 344.48 447.68 346.08 446.54"/>
<polyline points="130.84 648.72 132.45 647.24 134.06 645.76 135.66 644.3 137.27 642.84 138.88 641.4 140.48 639.96 142.09 638.53 143.69 637.11 145.3 635.7 146.91 634.3 148.51 632.91 150.12 631.52 151.72 630.14 153.33 628.77 154.94 627.41 156.54 626.06 158.15 624.71 159.76 623.37 161.36 622.03 162.97 620.71 164.57 619.38 166.18 618.07 167.79 616.76 169.39 615.46 171 614.16 172.61 612.87 174.21 611.59 175.82 610.31 177.42 609.04 179.03 607.77 180.64 606.51 182.24 605.25 183.85 604 185.46 602.76 187.06 601.52 188.67 600.28 190.27 599.05 191.88 597.82 193.49 596.6 195.09 595.39 196.7 594.18 198.31 592.97 199.91 591.77 201.52 590.57 203.12 589.37 204.73 588.18 206.34 587 207.94 585.82 209.55 584.64 211.16 583.47 212.76 582.3 214.37 581.14 215.97 579.98 217.58 578.82 219.19 577.67 220.79 576.52 222.4 575.37 224.01 574.23 225.61 573.09 227.22 571.96 228.82 570.82 230.43 569.7 232.04 568.57 233.64 567.45 235.25 566.33 236.86 565.22 238.46 564.11 240.07 563 241.68 561.9 243.28 560.8 244.89 559.7 246.49 558.6 248.1 557.51 249.71 556.42 251.31 555.33 252.92 554.25 254.52 553.17 256.13 552.09 257.74 551.02 259.34 549.95 260.95 548.88 262.56 547.81 264.16 546.75 265.77 545.69 267.38 544.63 268.98 543.58 270.59 542.53 272.19 541.48 273.8 540.43 275.41 539.38 277.01 538.34 278.62 537.3 280.23 536.26 281.83 535.23 283.44 534.2 285.04 533.17 286.65 532.14 288.26 531.12 289.86 530.09 291.47 529.07 293.07 528.05 294.68 527.04 296.29 526.03 297.89 525.01 299.5 524.01 301.11 523 302.71 521.99 304.32 520.99 305.92 519.99 307.53 518.99 309.14 518 310.74 517 312.35 516.01 313.96 515.02 315.56 514.03 317.17 513.05 318.77 512.06 320.38 511.08 321.99 510.1 323.59 509.13 325.2 508.15 326.81 507.18 328.41 506.2 330.02 505.23 331.62 504.27 333.23 503.3 334.84 502.34 336.44 501.37 338.05 500.41 339.66 499.45 341.26 498.5 342.87 497.54 344.48 496.59 346.08 495.64 347.69 494.69 349.29 493.74 350.9 492.79 352.51 491.85 354.11 490.9 355.72 489.96 357.32 489.02 358.93 488.08 360.54 487.15 362.14 486.21 363.75 485.28 365.36 484.35 366.96 483.42 368.57 482.49 370.17 481.56 371.78 480.64 373.39 479.71 374.99 478.79 376.6 477.87 378.21 476.95 379.81 476.03 381.42 475.12 383.02 474.2 384.63 473.29 386.24 472.38 387.84 471.47"/>
<polyline points="150.12 648.37 151.72 647.18 153.33 646 154.94 644.82 156.54 643.66 158.15 642.49 159.76 641.34 161.36 640.19 162.97 639.04 164.57 637.9 166.18 636.77 167.79 635.64 169.39 634.52 171 633.4 172.61 632.29 174.21 631.18 175.82 630.08 177.42 628.98 179.03 627.89 180.64 626.8 182.24 625.72 183.85 624.64 185.46 623.57 187.06 622.5 188.67 621.43 190.27 620.37 191.88 619.31 193.49 618.26 195.09 617.21 196.7 616.17 198.31 615.13 199.91 614.09 201.52 613.06 203.12 612.03 204.73 611 206.34 609.98 207.94 608.96 209.55 607.95 211.16 606.94 212.76 605.93 214.37 604.92 215.97 603.92 217.58 602.92 219.19 601.93 220.79 600.94 222.4 599.95 224.01 598.97 225.61 597.99 227.22 597.01 228.82 596.03 230.43 595.06 232.04 594.09 233.64 593.12 235.25 592.16 236.86 591.2 238.46 590.24 240.07 589.29 241.68 588.33 243.28 587.38 244.89 586.44 246.49 585.49 248.1 584.55 249.71 583.61 251.31 582.68 252.92 581.74 254.52 580.81 256.13 579.88 257.74 578.96 259.34 578.03 260.95 577.11 262.56 576.19 264.16 575.27 265.77 574.36 267.38 573.45 268.98 572.54 270.59 571.63 272.19 570.73 273.8 569.82 275.41 568.92 277.01 568.02 278.62 567.13 280.23 566.23 281.83 565.34 283.44 564.45 285.04 563.56 286.65 562.68 288.26 561.79 289.86 560.91 291.47 560.03 293.07 559.15 294.68 558.28 296.29 557.4 297.89 556.53 299.5 555.66 301.11 554.79 302.71 553.93 304.32 553.06 305.92 552.2 307.53 551.34 309.14 550.48 310.74 549.63 312.35 548.77 313.96 547.92 315.56 547.07 317.17 546.22 318.77 545.37 320.38 544.52 321.99 543.68 323.59 542.83 325.2 541.99 326.81 541.15 328.41 540.31 330.02 539.48 331.62 538.64 333.23 537.81 334.84 536.98 336.44 536.15 338.05 535.32 339.66 534.49 341.26 533.67 342.87 532.84 344.48 532.02 346.08 531.2 347.69 530.38 349.29 529.56 350.9 528.75 352.51 527.93 354.11 527.12 355.72 526.31 357.32 525.5 358.93 524.69 360.54 523.88 362.14 523.08 363.75 522.27 365.36 521.47 366.96 520.67 368.57 519.87 370.17 519.07 371.78 518.27 373.39 517.47 374.99 516.68 376.6 515.88 378.21 515.09 379.81 514.3 381.42 513.51 383.02 512.72 384.63 511.94 386.24 511.15 387.84 510.36"/>
<polyline points="171 647.98 172.61 647 174.21 646.03 175.82 645.06 177.42 644.09 179.03 643.13 180.64 642.18 182.24 641.23 183.85 640.28 185.46 639.33 187.06 638.39 188.67 637.46 190.27 636.53 191.88 635.6 193.49 634.67 195.09 633.75 196.7 632.83 198.31 631.92 199.91 631.01 201.52 630.1 203.12 629.19 204.73 628.29 206.34 627.39 207.94 626.5 209.55 625.61 211.16 624.72 212.76 623.83 214.37 622.95 215.97 622.07 217.58 621.19 219.19 620.32 220.79 619.45 222.4 618.58 224.01 617.71 225.61 616.85 227.22 615.99 228.82 615.14 230.43 614.28 232.04 613.43 233.64 612.58 235.25 611.73 236.86 610.89 238.46 610.05 240.07 609.21 241.68 608.37 243.28 607.53 244.89 606.7 246.49 605.87 248.1 605.04 249.71 604.22 251.31 603.4 252.92 602.58 254.52 601.76 256.13 600.94 257.74 600.13 259.34 599.31 260.95 598.5 262.56 597.7 264.16 596.89 265.77 596.09 267.38 595.29 268.98 594.49 270.59 593.69 272.19 592.89 273.8 592.1 275.41 591.31 277.01 590.52 278.62 589.73 280.23 588.94 281.83 588.16 283.44 587.38 285.04 586.6 286.65 585.82 288.26 585.04 289.86 584.27 291.47 583.49 293.07 582.72 294.68 581.95 296.29 581.19 297.89 580.42 299.5 579.65 301.11 578.89 302.71 578.13 304.32 577.37 305.92 576.61 307.53 575.86 309.14 575.1 310.74 574.35 312.35 573.6 313.96 572.85 315.56 572.1 317.17 571.35 318.77 570.61 320.38 569.86 321.99 569.12 323.59 568.38 325.2 567.64 326.81 566.9 328.41 566.16 330.02 565.43 331.62 564.69 333.23 563.96 334.84 563.23 336.44 562.5 338.05 561.77 339.66 561.05 341.26 560.32 342.87 559.6 344.48 558.88 346.08 558.15 347.69 557.43 349.29 556.72 350.9 556 352.51 555.28 354.11 554.57 355.72 553.85 357.32 553.14 358.93 552.43 360.54 551.72 362.14 551.01 363.75 550.31 365.36 549.6 366.96 548.9 368.57 548.19 370.17 547.49 371.78 546.79 373.39 546.09 374.99 545.39 376.6 544.69 378.21 544 379.81 543.3 381.42 542.61 383.02 541.91 384.63 541.22 386.24 540.53 387.84 539.84"/>
<polyline points="191.88 648.36 193.49 647.54 195.09 646.72 196.7 645.9 198.31 645.08 199.91 644.27 201.52 643.46 203.12 642.65 204.73 641.85 206.34 641.05 207.94 640.25 209.55 639.45 211.16 638.66 212.76 637.87 214.37 637.08 215.97 636.3 217.58 635.52 219.19 634.74 220.79 633.96 222.4 633.18 224.01 632.41 225.61 631.64 227.22 630.88 228.82 630.11 230.43 629.35 232.04 628.59 233.64 627.83 235.25 627.08 236.86 626.32 238.46 625.57 240.07 624.82 241.68 624.08 243.28 623.33 244.89 622.59 246.49 621.85 248.1 621.11 249.71 620.38 251.31 619.64 252.92 618.91 254.52 618.18 256.13 617.45 257.74 616.72 259.34 616 260.95 615.28 262.56 614.56 264.16 613.84 265.77 613.12 267.38 612.41 268.98 611.69 270.59 610.98 272.19 610.27 273.8 609.56 275.41 608.86 277.01 608.15 278.62 607.45 280.23 606.75 281.83 606.05 283.44 605.35 285.04 604.66 286.65 603.96 288.26 603.27 289.86 602.58 291.47 601.89 293.07 601.2 294.68 600.51 296.29 599.83 297.89 599.14 299.5 598.46 301.11 597.78 302.71 597.1 304.32 596.43 305.92 595.75 307.53 595.07 309.14 594.4 310.74 593.73 312.35 593.06 313.96 592.39 315.56 591.72 317.17 591.06 318.77 590.39 320.38 589.73 321.99 589.07 323.59 588.4 325.2 587.74 326.81 587.09 328.41 586.43 330.02 585.77 331.62 585.12 333.23 584.47 334.84 583.81 336.44 583.16 338.05 582.51 339.66 581.87 341.26 581.22 342.87 580.57 344.48 579.93 346.08 579.29 347.69 578.64 349.29 578 350.9 577.36 352.51 576.72 354.11 576.09 355.72 575.45 357.32 574.81 358.93 574.18 360.54 573.55 362.14 572.92 363.75 572.28 365.36 571.65 366.96 571.03 368.57 570.4 370.17 569.77 371.78 569.15 373.39 568.52 374.99 567.9 376.6 567.28 378.21 566.66 379.81 566.04 381.42 565.42 383.02 564.8 384.63 564.18 386.24 563.56 387.84 562.95"/>
<polyline points="214.37 648.46 215.97 647.75 217.58 647.05 219.19 646.34 220.79 645.64 222.4 644.94 224.01 644.25 225.61 643.55 227.22 642.86 228.82 642.17 230.43 641.48 232.04 640.79 233.64 640.11 235.25 639.43 236.86 638.75 238.46 638.07 240.07 637.4 241.68 636.72 243.28 636.05 244.89 635.38 246.49 634.71 248.1 634.05 249.71 633.38 251.31 632.72 252.92 632.06 254.52 631.4 256.13 630.74 257.74 630.09 259.34 629.43 260.95 628.78 262.56 628.13 264.16 627.48 265.77 626.83 267.38 626.19 268.98 625.55 270.59 624.9 272.19 624.26 273.8 623.62 275.41 622.99 277.01 622.35 278.62 621.72 280.23 621.08 281.83 620.45 283.44 619.82 285.04 619.19 286.65 618.57 288.26 617.94 289.86 617.32 291.47 616.7 293.07 616.08 294.68 615.46 296.29 614.84 297.89 614.22 299.5 613.6 301.11 612.99 302.71 612.38 304.32 611.77 305.92 611.16 307.53 610.55 309.14 609.94 310.74 609.33 312.35 608.73 313.96 608.12 315.56 607.52 317.17 606.92 318.77 606.32 320.38 605.72 321.99 605.12 323.59 604.53 325.2 603.93 326.81 603.34 328.41 602.74 330.02 602.15 331.62 601.56 333.23 600.97 334.84 600.38 336.44 599.8 338.05 599.21 339.66 598.63 341.26 598.04 342.87 597.46 344.48 596.88 346.08 596.3 347.69 595.72 349.29 595.14 350.9 594.56 352.51 593.98 354.11 593.41 355.72 592.83 357.32 592.26 358.93 591.69 360.54 591.12 362.14 590.55 363.75 589.98 365.36 589.41 366.96 588.84 368.57 588.28 370.17 587.71 371.78 587.15 373.39 586.58 374.99 586.02 376.6 585.46 378.21 584.9 379.81 584.34 381.42 583.78 383.02 583.22 384.63 582.66 386.24 582.11 387.84 581.55"/>
</g>
<g fill="none" stroke="#26368f" stroke-width="1.55" stroke-linejoin="round">
<path d="M231.25 554.7C231.25 553.58 236.88 549.12 240 546.25C243.12 543.38 246.25 540.71 250 537.5C253.75 534.29 258.33 530.33 262.5 527C266.67 523.67 270.83 520.42 275 517.5C279.17 514.58 283.33 512.08 287.5 509.5C291.67 506.92 296.25 504.08 300 502C303.75 499.92 307.05 498.4 310 497C312.95 495.6 316.66 493.31 317.7 493.6C318.74 493.89 317.53 496.77 316.25 498.75C314.97 500.73 312.71 503 310 505.5C307.29 508 303.75 510.83 300 513.75C296.25 516.67 291.67 519.96 287.5 523C283.33 526.04 279.17 529.08 275 532C270.83 534.92 266.67 537.75 262.5 540.5C258.33 543.25 253.75 546.42 250 548.5C246.25 550.58 243.12 551.97 240 553C236.88 554.03 231.25 555.83 231.25 554.7Z"/>
<path d="M243.75 545C243.75 544.23 246.88 541.58 250 538.9C253.12 536.22 258.33 532.05 262.5 528.9C266.67 525.75 271.25 522.52 275 520C278.75 517.48 281.25 516 285 513.75C288.75 511.5 294.07 508.29 297.5 506.5C300.93 504.71 305.18 502.45 305.6 503C306.02 503.55 303.02 507 300 509.8C296.98 512.6 291.67 516.68 287.5 519.8C283.33 522.92 279.17 525.67 275 528.5C270.83 531.33 266.67 534.3 262.5 536.8C258.33 539.3 253.12 542.13 250 543.5C246.88 544.87 243.75 545.77 243.75 545Z" stroke-width="1.25"/>
<path d="M266.25 531.25C266.25 530.67 271.67 525.48 275 522.7C278.33 519.93 284.79 515.08 286.25 514.6C287.71 514.12 285.62 517.87 283.75 519.8C281.88 521.73 277.92 524.29 275 526.2C272.08 528.11 266.25 531.83 266.25 531.25Z" stroke-width="1.1" fill="#eef2fc"/>
<path d="M155.6 450.6 L155 459.4 C159 457.5 163.5 454.5 166.9 450.6" fill="#ffffff" stroke-width="1.3"/>
<path d="M157.6 450.6 L157.3 455.6 C159.5 454.5 161.5 452.8 163 450.6" fill="#7f9be6" stroke-width="1"/>
</g>
<g fill="none" stroke="#26368f" stroke-width="1.45" stroke-linejoin="round" stroke-linecap="round">
<path d="M104 634.6C103.17 636.93 108.58 635.97 111 636C113.42 636.03 116.17 635.17 118.5 634.8C120.83 634.42 122.92 634.1 125 633.75C127.08 633.4 129.12 633.2 131 632.7C132.88 632.2 134.75 631.65 136.25 630.75C137.75 629.85 138.62 628.55 140 627.3C141.38 626.05 142.88 624.67 144.5 623.25C146.12 621.83 148 620.33 149.75 618.75C151.5 617.17 153.25 615.42 155 613.8C156.75 612.17 158.5 610.6 160.25 609C162 607.4 163.75 605.7 165.5 604.2C167.25 602.7 168.88 601.4 170.75 600C172.62 598.6 176.62 596.17 176.75 595.8C176.88 595.42 173.25 597.1 171.5 597.75C169.75 598.4 168 599.03 166.25 599.7C164.5 600.38 162.62 601.05 161 601.8C159.38 602.55 157.88 603.3 156.5 604.2C155.12 605.1 153.88 606.15 152.75 607.2C151.62 608.25 150.75 609.4 149.75 610.5C148.75 611.6 147.75 612.8 146.75 613.8C145.75 614.8 144.75 615.77 143.75 616.5C142.75 617.23 141.75 617.92 140.75 618.2C139.75 618.48 138.75 618.61 137.75 618.2C136.75 617.79 135.57 616.78 134.75 615.75C133.93 614.72 133.05 613.38 132.8 612C132.55 610.62 132.85 609 133.25 607.5C133.65 606 134.45 604.45 135.2 603C135.95 601.55 138.95 598.3 137.75 598.8C136.55 599.3 131.62 602.13 128 606C124.38 609.87 120 617.23 116 622C112 626.77 104.83 632.27 104 634.6Z" fill="#ffffff"/>
<path d="M113 631.5C114 631.25 117 630.45 119 630C121 629.55 123 629.1 125 628.8C127 628.5 129 628.7 131 628.2C133 627.7 135.38 626.88 137 625.8C138.62 624.72 140.12 622.42 140.75 621.75" stroke-width="1.05"/>
<path d="M119 626.5C120 626.33 123 625.79 125 625.5C127 625.21 129.5 625.38 131 624.75C132.5 624.12 133.75 623 134 621.75C134.25 620.5 133 618.88 132.5 617.25C132 615.62 131.25 612.88 131 612" stroke-width="1.05"/>
<path d="M141.5 620.4C142.12 620.04 145.5 617.4 147.5 615.75C149.5 614.1 151.5 612.23 153.5 610.5C155.5 608.77 157.5 606.9 159.5 605.4C161.5 603.9 163.68 602.57 165.5 601.5C167.32 600.43 170.9 598.78 170.4 599C169.9 599.22 164.69 601.7 162.5 602.8C160.31 603.9 158.75 604.65 157.25 605.6C155.75 606.55 154.62 607.47 153.5 608.5C152.38 609.53 151.5 610.75 150.5 611.8C149.5 612.85 148.62 613.78 147.5 614.8C146.38 615.82 144.75 616.97 143.75 617.9C142.75 618.83 140.88 620.76 141.5 620.4Z" stroke-width="1.05"/>
<path d="M150.5 612.7C150.75 612.08 153.25 609.65 155 608.3C156.75 606.95 159.6 605.32 161 604.6C162.4 603.88 163.78 603.4 163.4 604C163.03 604.6 160.4 606.87 158.75 608.2C157.1 609.53 154.88 611.25 153.5 612C152.12 612.75 150.25 613.32 150.5 612.7Z" fill="#86a4ea" stroke-width="0.9"/>
</g>
<polygon points="136.48 595.54 137.4 596.48 138.15 597.59 138.72 598.86 139.08 600.27 139.24 601.8 139.18 603.44 138.91 605.17 138.42 606.96 137.72 608.8 136.82 610.68 135.72 612.57 134.45 614.47 133.01 616.35 131.42 618.2 129.72 620.01 127.91 621.77 126.03 623.47 124.07 625.07 122.04 626.55 119.97 627.89 117.86 629.09 115.76 630.15 113.71 631.06 111.74 631.84 109.91 632.5 108.26 633.07 106.83 633.55 105.64 633.96 104.72 634.29 104.07 634.54 103.69 634.71 103.57 634.76 103.6 634.63 103.7 634.23 103.83 633.55 104 632.58 104.19 631.34 104.42 629.85 104.69 628.12 105.03 626.2 105.46 624.13 106 621.95 106.67 619.7 107.48 617.42 108.45 615.14 109.56 612.89 110.79 610.68 112.13 608.53 113.55 606.45 115.04 604.45 116.59 602.57 118.19 600.83 119.84 599.24 121.51 597.84 123.2 596.62 124.9 595.61 126.58 594.82 128.23 594.25 129.83 593.91 131.37 593.8 132.82 593.91 134.17 594.25 135.39 594.79" fill="#ffffff" stroke="#26368f" stroke-width="1.2" stroke-linejoin="round"/>
<polygon points="135.77 596.39 136.64 597.27 137.34 598.32 137.86 599.53 138.19 600.87 138.33 602.34 138.25 603.9 137.97 605.55 137.49 607.27 136.8 609.04 135.92 610.84 134.86 612.66 133.62 614.49 132.23 616.3 130.71 618.09 129.06 619.84 127.32 621.54 125.51 623.18 123.63 624.73 121.69 626.17 119.7 627.48 117.68 628.65 115.67 629.68 113.71 630.57 111.83 631.34 110.08 632 108.5 632.56 107.13 633.04 106 633.44 105.12 633.76 104.5 634.01 104.13 634.17 104.02 634.23 104.05 634.1 104.15 633.72 104.28 633.06 104.45 632.14 104.65 630.95 104.88 629.52 105.16 627.87 105.51 626.03 105.94 624.05 106.47 621.96 107.14 619.8 107.94 617.62 108.88 615.43 109.96 613.26 111.16 611.14 112.46 609.07 113.84 607.06 115.28 605.14 116.77 603.33 118.32 601.64 119.9 600.11 121.51 598.75 123.13 597.57 124.75 596.58 126.36 595.81 127.94 595.25 129.47 594.9 130.93 594.78 132.31 594.87 133.59 595.17 134.75 595.68" fill="#2b3fa6"/>
<polygon points="134.97 597.41 135.76 598.22 136.39 599.18 136.84 600.3 137.12 601.54 137.22 602.91 137.13 604.37 136.85 605.92 136.37 607.53 135.72 609.2 134.88 610.91 133.88 612.64 132.72 614.38 131.41 616.1 129.98 617.81 128.45 619.49 126.83 621.12 125.13 622.7 123.38 624.19 121.57 625.58 119.72 626.85 117.84 627.99 115.97 628.99 114.14 629.86 112.38 630.6 110.74 631.24 109.25 631.77 107.94 632.22 106.85 632.58 105.99 632.87 105.38 633.09 105.01 633.22 104.89 633.26 104.91 633.14 104.98 632.75 105.08 632.11 105.22 631.22 105.39 630.08 105.6 628.71 105.87 627.15 106.21 625.42 106.64 623.56 107.18 621.61 107.84 619.59 108.63 617.55 109.56 615.5 110.62 613.48 111.78 611.49 113.04 609.55 114.36 607.67 115.75 605.87 117.18 604.17 118.66 602.58 120.17 601.14 121.7 599.85 123.23 598.73 124.76 597.79 126.27 597.05 127.75 596.5 129.17 596.15 130.53 596.01 131.81 596.07 132.98 596.33 134.04 596.78" fill="#2f55c4"/>
<polygon points="133.93 598.89 134.63 599.61 135.18 600.48 135.59 601.49 135.82 602.62 135.9 603.87 135.8 605.21 135.53 606.63 135.09 608.12 134.49 609.66 133.72 611.24 132.81 612.85 131.75 614.47 130.57 616.08 129.27 617.67 127.88 619.24 126.41 620.77 124.87 622.24 123.27 623.64 121.63 624.95 119.95 626.14 118.24 627.21 116.54 628.16 114.86 628.97 113.25 629.67 111.73 630.25 110.34 630.74 109.12 631.13 108.08 631.45 107.26 631.69 106.66 631.85 106.29 631.95 106.16 631.98 106.17 631.85 106.2 631.47 106.26 630.85 106.36 630 106.49 628.92 106.66 627.65 106.9 626.2 107.21 624.6 107.61 622.89 108.13 621.1 108.76 619.26 109.52 617.39 110.4 615.53 111.4 613.68 112.5 611.87 113.69 610.1 114.94 608.38 116.24 606.74 117.59 605.19 118.97 603.74 120.38 602.42 121.8 601.24 123.22 600.21 124.64 599.35 126.03 598.66 127.38 598.15 128.69 597.82 129.92 597.67 131.08 597.71 132.14 597.93 133.1 598.33" fill="#2f7fde"/>
<polygon points="132.95 600.29 133.57 600.93 134.05 601.71 134.4 602.62 134.59 603.65 134.64 604.78 134.53 606.01 134.27 607.32 133.86 608.69 133.3 610.12 132.59 611.59 131.75 613.08 130.79 614.59 129.71 616.09 128.53 617.59 127.26 619.06 125.92 620.49 124.52 621.88 123.07 623.2 121.58 624.43 120.06 625.57 118.52 626.59 116.99 627.5 115.47 628.29 114.01 628.96 112.62 629.52 111.34 629.97 110.2 630.32 109.21 630.59 108.4 630.78 107.79 630.89 107.4 630.93 107.24 630.93 107.21 630.78 107.19 630.38 107.19 629.76 107.23 628.93 107.32 627.91 107.47 626.72 107.7 625.38 108.01 623.92 108.41 622.37 108.93 620.74 109.55 619.07 110.29 617.37 111.15 615.68 112.11 614 113.15 612.34 114.28 610.72 115.46 609.15 116.68 607.65 117.95 606.23 119.25 604.9 120.56 603.69 121.89 602.61 123.21 601.66 124.52 600.86 125.8 600.21 127.04 599.73 128.23 599.41 129.36 599.26 130.4 599.27 131.36 599.45 132.21 599.79" fill="#43bfe6"/>
<polygon points="132 601.58 132.53 602.13 132.93 602.82 133.21 603.63 133.35 604.55 133.36 605.57 133.23 606.68 132.96 607.87 132.56 609.12 132.03 610.43 131.37 611.78 130.6 613.17 129.71 614.56 128.73 615.97 127.65 617.36 126.5 618.74 125.28 620.09 124.01 621.39 122.7 622.64 121.36 623.81 119.99 624.89 118.62 625.88 117.25 626.76 115.9 627.54 114.59 628.2 113.35 628.74 112.19 629.18 111.14 629.52 110.22 629.76 109.44 629.91 108.83 629.97 108.41 629.97 108.22 629.92 108.14 629.74 108.06 629.32 108.02 628.71 108.03 627.92 108.1 626.97 108.25 625.88 108.49 624.66 108.81 623.34 109.23 621.94 109.76 620.48 110.39 618.98 111.12 617.45 111.96 615.92 112.88 614.39 113.88 612.88 114.94 611.41 116.05 609.98 117.21 608.6 118.4 607.3 119.61 606.09 120.83 604.97 122.06 603.97 123.28 603.09 124.47 602.33 125.64 601.72 126.77 601.25 127.84 600.93 128.84 600.77 129.77 600.75 130.62 600.88 131.36 601.16" fill="#79dca0"/>
<polygon points="130.86 603.1 131.29 603.57 131.62 604.15 131.83 604.85 131.93 605.66 131.91 606.55 131.77 607.53 131.51 608.59 131.13 609.71 130.65 610.89 130.05 612.11 129.36 613.36 128.57 614.63 127.69 615.91 126.74 617.19 125.72 618.45 124.64 619.68 123.52 620.88 122.37 622.03 121.19 623.11 119.99 624.12 118.79 625.05 117.6 625.88 116.43 626.62 115.29 627.25 114.2 627.78 113.18 628.19 112.25 628.51 111.41 628.72 110.68 628.83 110.09 628.85 109.64 628.79 109.39 628.68 109.24 628.45 109.1 628.02 109.02 627.43 109 626.7 109.06 625.84 109.21 624.86 109.44 623.78 109.77 622.62 110.2 621.39 110.72 620.11 111.33 618.79 112.03 617.45 112.82 616.09 113.69 614.74 114.62 613.41 115.6 612.1 116.63 610.82 117.7 609.6 118.79 608.44 119.89 607.36 121.01 606.36 122.12 605.45 123.22 604.66 124.29 603.97 125.33 603.41 126.33 602.97 127.27 602.66 128.15 602.49 128.96 602.44 129.68 602.53 130.32 602.75" fill="#e9ea3c"/>
<polygon points="129.44 604.78 129.79 605.16 130.04 605.65 130.19 606.23 130.24 606.91 130.19 607.68 130.04 608.52 129.79 609.43 129.44 610.4 129 611.43 128.47 612.49 127.85 613.59 127.16 614.71 126.39 615.84 125.56 616.97 124.68 618.09 123.75 619.19 122.78 620.26 121.79 621.29 120.77 622.27 119.75 623.18 118.73 624.03 117.71 624.79 116.72 625.47 115.76 626.06 114.84 626.56 113.98 626.95 113.18 627.25 112.45 627.44 111.81 627.54 111.27 627.54 110.83 627.45 110.54 627.3 110.35 627.04 110.18 626.63 110.09 626.1 110.08 625.45 110.14 624.7 110.3 623.86 110.54 622.94 110.86 621.95 111.28 620.9 111.77 619.81 112.35 618.68 113 617.52 113.73 616.36 114.51 615.19 115.35 614.03 116.24 612.89 117.16 611.79 118.11 610.72 119.08 609.71 120.06 608.76 121.04 607.88 122.02 607.08 122.98 606.37 123.91 605.76 124.81 605.25 125.66 604.84 126.46 604.55 127.21 604.37 127.88 604.3 128.49 604.35 129.01 604.51" fill="#f8a41f"/>
<polygon points="128.27 606.41 128.53 606.7 128.7 607.09 128.79 607.56 128.8 608.11 128.72 608.74 128.55 609.44 128.31 610.2 127.98 611.02 127.58 611.89 127.1 612.8 126.56 613.74 125.95 614.7 125.29 615.67 124.57 616.65 123.81 617.62 123.02 618.58 122.2 619.52 121.35 620.42 120.5 621.28 119.64 622.09 118.79 622.85 117.95 623.54 117.14 624.16 116.35 624.71 115.6 625.17 114.9 625.55 114.24 625.84 113.65 626.04 113.12 626.14 112.65 626.14 112.26 626.05 111.95 625.87 111.71 625.59 111.55 625.22 111.48 624.76 111.48 624.22 111.57 623.6 111.74 622.91 111.99 622.15 112.32 621.33 112.72 620.46 113.19 619.55 113.73 618.6 114.33 617.63 114.98 616.65 115.68 615.66 116.42 614.67 117.2 613.7 118 612.75 118.83 611.83 119.67 610.96 120.51 610.13 121.35 609.37 122.18 608.67 122.99 608.04 123.78 607.5 124.53 607.03 125.24 606.66 125.9 606.38 126.51 606.19 127.05 606.1 127.53 606.11 127.94 606.21" fill="#e6211a"/>
<polygon points="127.04 608.12 127.19 608.31 127.27 608.58 127.29 608.92 127.24 609.34 127.12 609.82 126.93 610.36 126.68 610.96 126.37 611.61 126 612.3 125.57 613.03 125.09 613.8 124.56 614.58 124 615.39 123.39 616.2 122.76 617.01 122.1 617.81 121.42 618.6 120.73 619.36 120.04 620.1 119.35 620.8 118.67 621.45 118 622.06 117.35 622.6 116.73 623.09 116.15 623.51 115.6 623.86 115.1 624.14 114.65 624.34 114.25 624.46 113.91 624.51 113.63 624.47 113.41 624.36 113.26 624.16 113.17 623.89 113.16 623.55 113.21 623.14 113.33 622.65 113.52 622.11 113.77 621.51 114.08 620.86 114.45 620.17 114.88 619.44 115.36 618.67 115.88 617.89 116.45 617.09 117.05 616.28 117.69 615.46 118.35 614.66 119.02 613.87 119.71 613.11 120.41 612.37 121.1 611.67 121.78 611.02 122.45 610.42 123.1 609.87 123.71 609.38 124.3 608.96 124.85 608.61 125.35 608.33 125.8 608.13 126.2 608.01 126.54 607.96 126.82 608" fill="#7d0d0d"/>
<polygon points="125.57 610.02 125.64 610.13 125.66 610.3 125.63 610.53 125.55 610.82 125.42 611.15 125.24 611.54 125.01 611.97 124.73 612.45 124.41 612.96 124.06 613.5 123.66 614.08 123.24 614.67 122.78 615.28 122.31 615.89 121.81 616.52 121.3 617.14 120.77 617.75 120.25 618.35 119.72 618.92 119.2 619.48 118.69 620 118.2 620.48 117.73 620.93 117.28 621.33 116.86 621.69 116.47 621.99 116.12 622.23 115.81 622.42 115.55 622.55 115.32 622.62 115.15 622.63 115.03 622.58 114.96 622.47 114.94 622.3 114.97 622.07 115.05 621.78 115.18 621.45 115.36 621.06 115.59 620.63 115.87 620.15 116.19 619.64 116.54 619.1 116.94 618.52 117.36 617.93 117.82 617.32 118.29 616.71 118.79 616.08 119.3 615.46 119.83 614.85 120.35 614.25 120.88 613.68 121.4 613.12 121.91 612.6 122.4 612.12 122.87 611.67 123.32 611.27 123.74 610.91 124.13 610.61 124.48 610.37 124.79 610.18 125.05 610.05 125.28 609.98 125.45 609.97" fill="#ffffff"/>
<path d="M117.75 602.96C118.2 602.53 119.56 601.12 120.48 600.33C121.4 599.54 122.34 598.82 123.27 598.21C124.2 597.61 125.14 597.1 126.04 596.7C126.95 596.3 127.86 596.01 128.72 595.83C129.58 595.65 130.43 595.58 131.21 595.61C131.99 595.65 132.74 595.8 133.41 596.05C134.08 596.3 134.7 596.66 135.23 597.11C135.76 597.55 136.22 598.1 136.58 598.72C136.94 599.33 137.23 600.04 137.4 600.81C137.57 601.57 137.65 602.41 137.62 603.29C137.59 604.17 137.46 605.12 137.23 606.08C136.99 607.05 136.65 608.06 136.22 609.08C135.78 610.1 135.24 611.15 134.62 612.19C134 613.24 132.85 614.82 132.5 615.34" fill="none" stroke="#dfe6fa" stroke-width="0.7"/>
<rect x="59" y="450.6" width="319.3" height="202.2" fill="none" stroke="#111" stroke-width="1.1"/>
<path d="M119.6 652.8v-3M119.6 450.6v3M183.85 652.8v-3M183.85 450.6v3M248.1 652.8v-3M248.1 450.6v3M312.35 652.8v-3M312.35 450.6v3M376.6 652.8v-3M376.6 450.6v3M59 602.3h3M378.3 602.3h-3M59 551.8h3M378.3 551.8h-3M59 501.3h3M378.3 501.3h-3" stroke="#111" stroke-width="0.9" fill="none"/>
<text x="53" y="658.4" text-anchor="end" class="tk">1</text>
<text x="53" y="607.9" text-anchor="end" class="tk">1.5</text>
<text x="53" y="557.4" text-anchor="end" class="tk">2</text>
<text x="53" y="506.9" text-anchor="end" class="tk">2.5</text>
<text x="53" y="456.4" text-anchor="end" class="tk">3</text>
<text x="122" y="669" text-anchor="middle" class="tk">20</text>
<text x="186.6" y="669" text-anchor="middle" class="tk">40</text>
<text x="250.9" y="669" text-anchor="middle" class="tk">60</text>
<text x="315" y="669" text-anchor="middle" class="tk">80</text>
<text x="379.5" y="669" text-anchor="middle" class="tk">100</text>
<text x="64" y="591.7" class="lg">free SPOP<tspan dy="-5.4" font-size="9.3">MATH</tspan></text>
<text x="220" y="489.4" class="lg">Gli3<tspan dy="-5.4" font-size="8.5">1-90</tspan><tspan dy="5.4">/(SPOP</tspan><tspan dy="-5.4" font-size="8.5">MATH</tspan><tspan dy="5.4">)</tspan><tspan dy="3.5" font-size="9.3">3</tspan></text>
<text x="170" y="613.4" class="lg">Gli3<tspan dy="-5.4" font-size="8.5">1-90</tspan><tspan dy="5.4">/(SPOP</tspan><tspan dy="-5.4" font-size="8.5">MATH</tspan><tspan dy="5.4">)</tspan><tspan dy="3.5" font-size="9.3">1</tspan><tspan dy="-3.5" dx="0.3"> and</tspan></text>
<text x="170" y="633.4" class="lg">Gli3<tspan dy="-5.4" font-size="8.5">1-90</tspan><tspan dy="5.4">/(SPOP</tspan><tspan dy="-5.4" font-size="8.5">MATH</tspan><tspan dy="5.4">)</tspan><tspan dy="3.5" font-size="9.3">2</tspan></text>
<text x="4" y="452.9" class="pl">(c)</text>
<text transform="translate(28.8 564.6) rotate(-90)" font-size="17" font-weight="bold" fill="#111">f/f<tspan dy="6" font-size="9.5">0</tspan></text>
<text x="224.2" y="688.8" text-anchor="middle" class="axl">Mw (kDa)</text>
</g>
</svg>
</body>
</html>
